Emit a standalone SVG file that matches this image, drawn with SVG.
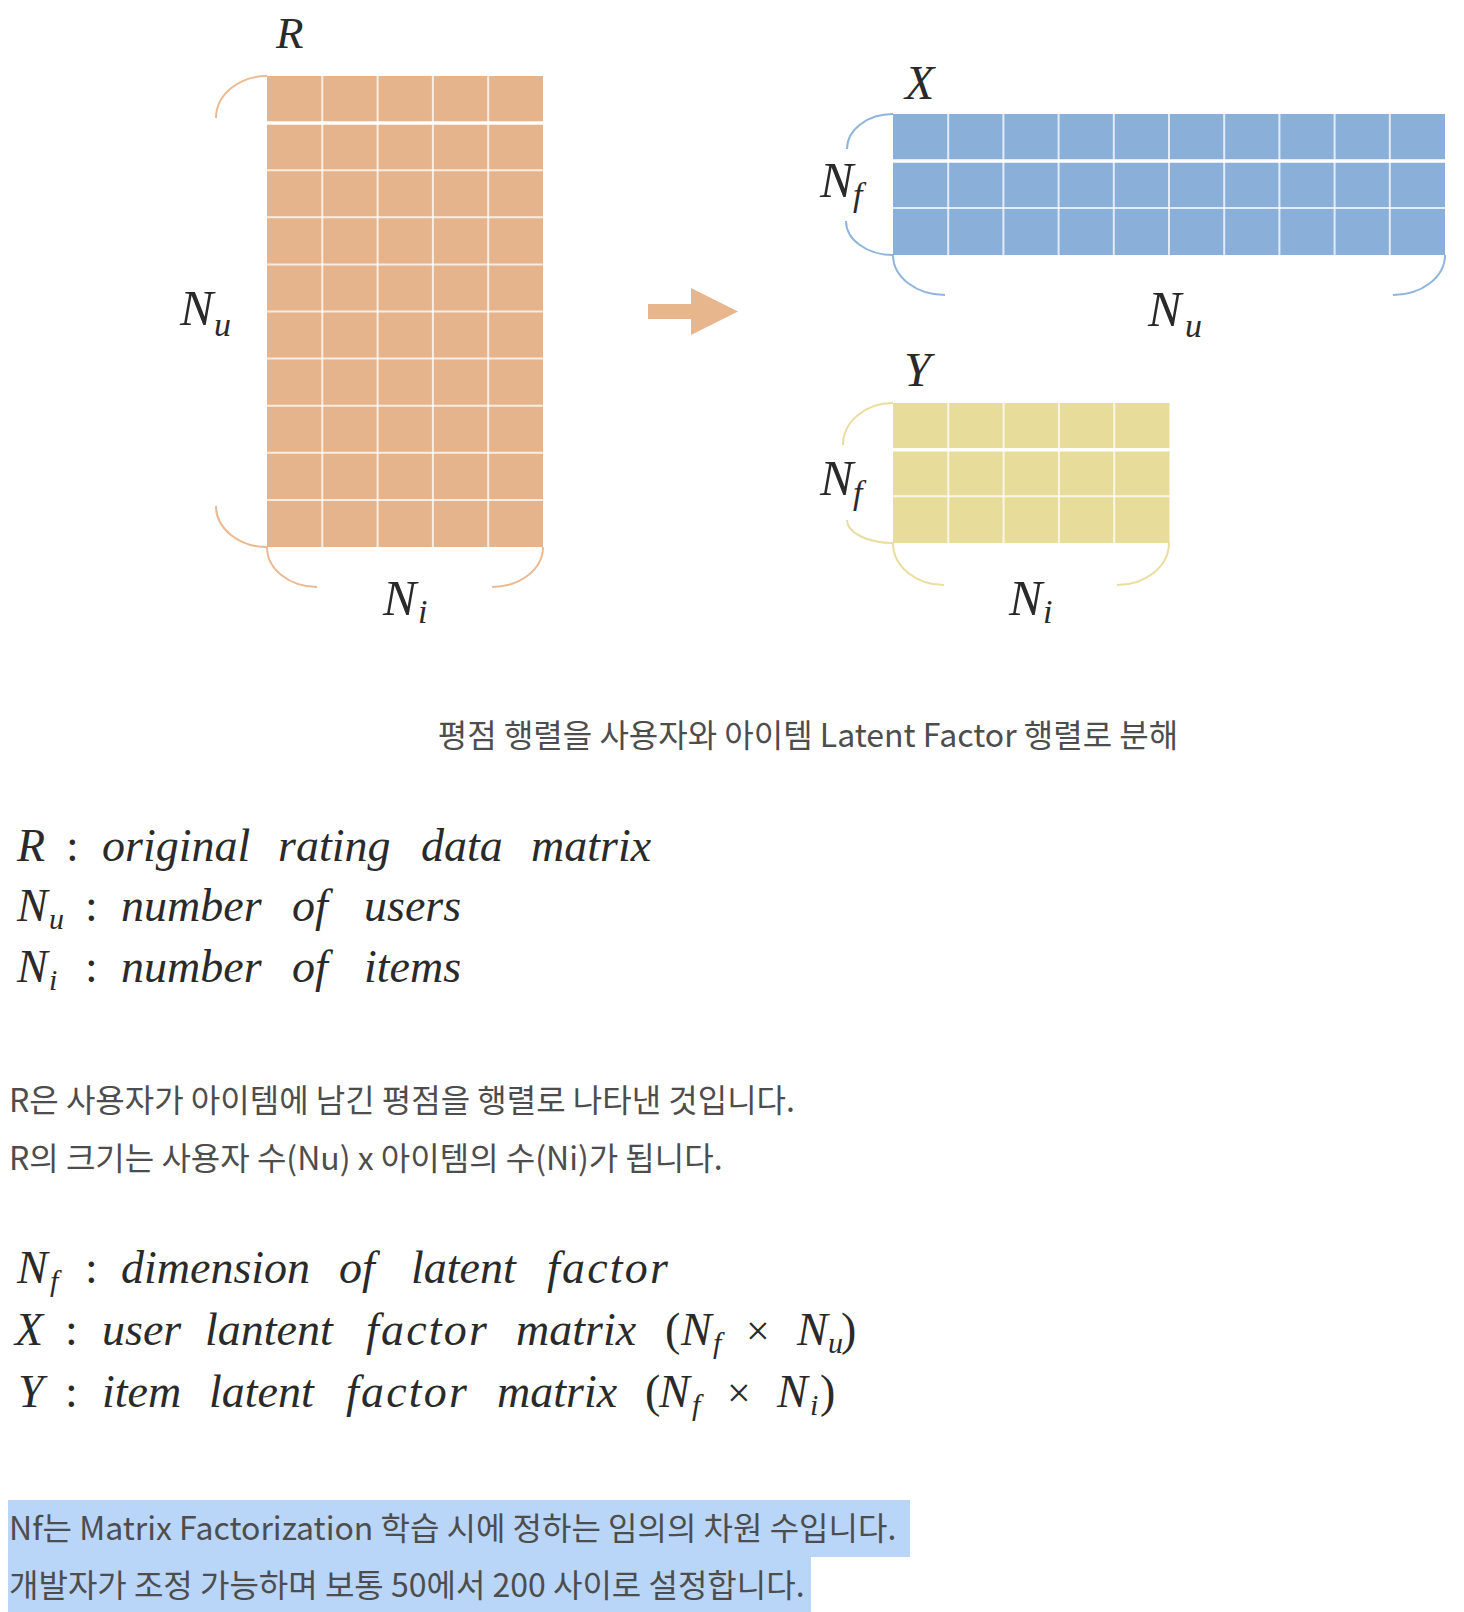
<svg xmlns="http://www.w3.org/2000/svg" width="1464" height="1612" viewBox="0 0 1464 1612">
<style>
  .math{font-family:"Liberation Serif","DejaVu Serif",serif;font-style:italic;fill:#2a2a2a;}
  .up{font-style:normal;}
  .kr{font-family:"Noto Sans CJK KR","Noto Sans",sans-serif;fill:#4d4d4d;font-size:32px;}
  .grid{stroke:#fff;stroke-width:2;stroke-opacity:0.75;fill:none;}
  .gridb{stroke:#fff;stroke-width:3.5;fill:none;}
  .braceR{stroke:#EBBA92;stroke-width:2;fill:none;}
  .braceX{stroke:#8FB5DD;stroke-width:2;fill:none;}
  .braceY{stroke:#EBDDA0;stroke-width:2;fill:none;}
  .lbl{font-size:50px;}
  .sub{font-size:34px;}
  .wide{letter-spacing:2.2px;}
</style>
<rect x="0" y="0" width="1464" height="1612" fill="#fff"/>

<g id="matrix-R">
  <rect x="267" y="76" width="276" height="471" fill="#E5B48C"/>
  <path class="grid" d="M322.3,76V547M377.6,76V547M432.9,76V547M488.2,76V547"/>
  <path class="gridb" d="M267,123H543"/>
  <path class="grid" d="M267,170.2H543M267,217.3H543M267,264.4H543M267,311.5H543M267,358.6H543M267,405.7H543M267,452.8H543M267,499.9H543"/>
  <path class="braceR" d="M267,76A51,42 0 0 0 216,118M216,506A51,41 0 0 0 267,547M267,547A50,40 0 0 0 317,587M543,547A51,40 0 0 1 492,587"/>
  <text class="math" x="276" y="48" font-size="45">R</text>
  <text class="math lbl" x="180" y="325" font-size="52">N<tspan class="sub" x="214" y="336">u</tspan></text>
  <text class="math lbl" x="383" y="615">N<tspan class="sub" x="418" y="623">i</tspan></text>
</g>

<g id="connectors">
  <polygon points="648,304 691,304 691,288 738,311.5 691,335 691,319 648,319" fill="#E8B68C"/>
</g>

<g id="matrix-X">
  <rect x="893" y="114" width="552" height="141" fill="#8AAFD9"/>
  <path class="grid" d="M948.2,114V255M1003.4,114V255M1058.6,114V255M1113.8,114V255M1169,114V255M1224.2,114V255M1279.4,114V255M1334.6,114V255M1389.8,114V255"/>
  <path class="gridb" d="M893,161H1445"/>
  <path class="grid" d="M893,208H1445"/>
  <path class="braceX" d="M893,114A46,35 0 0 0 847,149M846,221A47,34 0 0 0 893,255M893,255A52,40 0 0 0 945,295M1445,255A52,40 0 0 1 1393,295"/>
  <text class="math" x="905" y="99" font-size="48">X</text>
  <text class="math lbl" x="820" y="197">N<tspan class="sub" x="853" y="206">f</tspan></text>
  <text class="math lbl" x="1148" y="326">N<tspan class="sub" x="1185" y="337">u</tspan></text>
</g>

<g id="matrix-Y">
  <rect x="893" y="403" width="276.5" height="140" fill="#E8DC9B"/>
  <path class="grid" d="M948.3,403V543M1003.6,403V543M1058.9,403V543M1114.2,403V543"/>
  <path class="gridb" d="M893,449.7H1169.5"/>
  <path class="grid" d="M893,496.3H1169.5"/>
  <path class="braceY" d="M893,403A50,42 0 0 0 843,445M847,520A46,23 0 0 0 893,543M893,543A51,42 0 0 0 944,585M1169,543A52,42 0 0 1 1117,585"/>
  <text class="math" x="904" y="386" font-size="48">Y</text>
  <text class="math lbl" x="820" y="495">N<tspan class="sub" x="853" y="504">f</tspan></text>
  <text class="math lbl" x="1009" y="615">N<tspan class="sub" x="1043" y="623">i</tspan></text>
</g>

<g id="caption">
  <text class="kr" x="808" y="747" text-anchor="middle">평점 행렬을 사용자와 아이템 Latent Factor 행렬로 분해</text>
</g>

<g id="definitions-1" class="math" font-size="46">
  <text y="861"><tspan x="17">R</tspan><tspan x="66" class="up">:</tspan><tspan x="102">original</tspan><tspan x="278">rating</tspan><tspan x="421">data</tspan><tspan x="531">matrix</tspan></text>
  <text y="921"><tspan x="17">N</tspan><tspan x="49" y="929" font-size="30">u</tspan><tspan x="85" y="921" class="up">:</tspan><tspan x="121">number</tspan><tspan x="292">of</tspan><tspan x="364">users</tspan></text>
  <text y="982"><tspan x="17">N</tspan><tspan x="49" y="990" font-size="30">i</tspan><tspan x="85" y="982" class="up">:</tspan><tspan x="121">number</tspan><tspan x="292">of</tspan><tspan x="364">items</tspan></text>
</g>

<g id="paragraph-1">
  <text class="kr" x="9" y="1112">R은 사용자가 아이템에 남긴 평점을 행렬로 나타낸 것입니다.</text>
  <text class="kr" x="9" y="1170">R의 크기는 사용자 수(Nu) x 아이템의 수(Ni)가 됩니다.</text>
</g>

<g id="definitions-2" class="math" font-size="46">
  <text y="1283"><tspan x="17">N</tspan><tspan x="50" y="1291" font-size="30">f</tspan><tspan x="85" y="1283" class="up">:</tspan><tspan x="121">dimension</tspan><tspan x="339">of</tspan><tspan x="411">latent</tspan><tspan x="547" class="wide">factor</tspan></text>
  <text y="1345"><tspan x="15">X</tspan><tspan x="65" class="up">:</tspan><tspan x="102">user</tspan><tspan x="205">lantent</tspan><tspan x="366" class="wide">factor</tspan><tspan x="516">matrix</tspan><tspan x="665" class="up">(</tspan><tspan x="681">N</tspan><tspan x="713" y="1353" font-size="30">f</tspan><tspan x="746" y="1345" class="up" font-size="42">×</tspan><tspan x="797">N</tspan><tspan x="828" y="1353" font-size="30">u</tspan><tspan x="841" y="1345" class="up">)</tspan></text>
  <text y="1407"><tspan x="18">Y</tspan><tspan x="65" class="up">:</tspan><tspan x="102">item</tspan><tspan x="209">latent</tspan><tspan x="346" class="wide">factor</tspan><tspan x="497">matrix</tspan><tspan x="645" class="up">(</tspan><tspan x="659">N</tspan><tspan x="692" y="1415" font-size="30">f</tspan><tspan x="727" y="1407" class="up" font-size="42">×</tspan><tspan x="777">N</tspan><tspan x="810" y="1415" font-size="30">i</tspan><tspan x="820" y="1407" class="up">)</tspan></text>
</g>

<g id="paragraph-2">
  <rect x="8" y="1500" width="902" height="57" fill="#B9D5F8"/>
  <rect x="8" y="1557" width="803" height="55" fill="#B9D5F8"/>
  <text class="kr" x="9" y="1540">Nf는 Matrix Factorization 학습 시에 정하는 임의의 차원 수입니다.</text>
  <text class="kr" x="9" y="1597">개발자가 조정 가능하며 보통 50에서 200 사이로 설정합니다.</text>
</g>
</svg>
